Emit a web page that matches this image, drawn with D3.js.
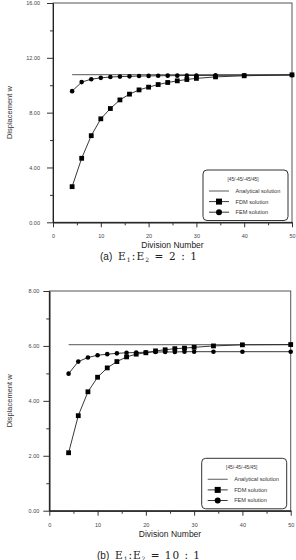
<!DOCTYPE html>
<html>
<head>
<meta charset="utf-8">
<script src="https://cdn.jsdelivr.net/npm/d3@7"></script>
<style>
body { margin: 0; background: #fff; }
text { font-family: "Liberation Sans", Arial, sans-serif; }
</style>
</head>
<body>
<script>
// division numbers used by both panels
var divisions = [4, 6, 8, 10, 12, 14, 16, 18, 20, 22, 24, 26, 28, 30, 34, 40, 50];

// (a) E1:E2 = 2:1
var analyticA = 10.78;
var fdmA = [2.60, 4.67, 6.32, 7.55, 8.30, 8.93, 9.35, 9.66, 9.86, 10.05, 10.20, 10.32, 10.42, 10.50, 10.61, 10.69, 10.76];
var femA = [9.57, 10.23, 10.44, 10.54, 10.60, 10.63, 10.65, 10.67, 10.68, 10.69, 10.70, 10.70, 10.71, 10.71, 10.72, 10.73, 10.74];

// (b) E1:E2 = 10:1
var analyticB = 6.05;
var fdmB = [2.11, 3.46, 4.33, 4.86, 5.20, 5.43, 5.60, 5.70, 5.75, 5.82, 5.86, 5.90, 5.92, 5.95, 6.00, 6.04, 6.05];
var femB = [4.99, 5.43, 5.58, 5.66, 5.70, 5.73, 5.75, 5.76, 5.77, 5.78, 5.78, 5.78, 5.79, 5.79, 5.79, 5.79, 5.79];

var xMajor = [0, 10, 20, 30, 40, 50];
var xMinor = [5, 15, 25, 35, 45];
var yMajorA = [0, 4, 8, 12, 16];
var yMinorA = [2, 6, 10, 14];
var yMajorB = [0, 2, 4, 6, 8];
var yMinorB = [1, 3, 5, 7];

var legendTitle = "[45/-45/-45/45]";
var legendNames = ["Analytical solution", "FDM solution", "FEM solution"];

var svg = d3.select("body")
            .append("svg")
            .attr("width", 296)
            .attr("height", 560);

var panel = function(o) {
    var g = svg.append("g");

    var xScale = d3.scaleLinear()
                   .domain([0, 50])
                   .range([o.left, o.right]);

    var yScale = d3.scaleLinear()
                   .domain([0, o.yMax])
                   .range([o.bottom, o.top]);

    // frame
    g.append("rect")
     .attr("x", o.left)
     .attr("y", o.top)
     .attr("width", o.right - o.left)
     .attr("height", o.bottom - o.top)
     .attr("fill", "none")
     .attr("stroke", "#555")
     .attr("stroke-width", 1);

    g.append("g")
     .attr("transform", "translate(0," + o.bottom + ")")
     .call(d3.axisBottom(xScale).tickValues(xMajor).tickSize(5)
             .tickSizeOuter(0).tickPadding(7).tickFormat(d3.format("d")));
    g.append("g")
     .attr("transform", "translate(0," + o.bottom + ")")
     .call(d3.axisBottom(xScale).tickValues(xMinor).tickSize(3)
             .tickSizeOuter(0).tickFormat(""));

    g.append("g")
     .attr("transform", "translate(" + o.left + ",0)")
     .call(d3.axisLeft(yScale).tickValues(o.yMajor).tickSize(6)
             .tickSizeOuter(0).tickPadding(o.yPad).tickFormat(d3.format(".2f")));
    g.append("g")
     .attr("transform", "translate(" + o.left + ",0)")
     .call(d3.axisLeft(yScale).tickValues(o.yMinor).tickSize(3)
             .tickSizeOuter(0).tickFormat(""));

    g.selectAll(".domain").attr("stroke", "#222");
    g.selectAll(".tick line").attr("stroke", "#333");
    g.selectAll(".tick text")
     .attr("font-size", "5.5px")
     .attr("fill", "#444")
     .style("font-family", "Liberation Sans, Arial, sans-serif");

    // axis titles
    g.append("text")
     .attr("x", (o.left + o.right) / 2)
     .attr("y", o.bottom + 26)
     .attr("text-anchor", "middle")
     .attr("font-size", "8.5px")
     .attr("fill", "#222")
     .text("Division Number");

    g.append("text")
     .attr("transform", "translate(9," + ((o.top + o.bottom) / 2) + ") rotate(-90)")
     .attr("text-anchor", "middle")
     .attr("dy", "0.35em")
     .attr("font-size", "7.5px")
     .attr("fill", "#333")
     .text("Displacement  w");

    // analytical solution
    g.append("line")
     .attr("x1", xScale(divisions[0]))
     .attr("x2", xScale(divisions[divisions.length - 1]))
     .attr("y1", yScale(o.analytic))
     .attr("y2", yScale(o.analytic))
     .attr("stroke", "#777")
     .attr("stroke-width", 1.2);

    var line = d3.line()
                 .x(d => xScale(d[0]))
                 .y(d => yScale(d[1]));

    var fem = divisions.map((d, i) => [d, o.fem[i]]);
    var fdm = divisions.map((d, i) => [d, o.fdm[i]]);

    g.append("path")
     .datum(fem)
     .attr("d", line)
     .attr("fill", "none")
     .attr("stroke", "#222")
     .attr("stroke-width", 0.9);

    g.append("path")
     .datum(fdm)
     .attr("d", line)
     .attr("fill", "none")
     .attr("stroke", "#222")
     .attr("stroke-width", 0.9);

    g.append("g").selectAll("circle")
     .data(fem)
     .enter()
     .append("circle")
     .attr("cx", d => xScale(d[0]))
     .attr("cy", d => yScale(d[1]))
     .attr("r", 2.3)
     .attr("fill", "#000");

    g.append("g").selectAll("rect")
     .data(fdm)
     .enter()
     .append("rect")
     .attr("x", d => xScale(d[0]) - 2.4)
     .attr("y", d => yScale(d[1]) - 2.4)
     .attr("width", 4.8)
     .attr("height", 4.8)
     .attr("fill", "#000");

    // legend
    var lg = g.append("g")
              .attr("transform", "translate(" + o.legX + "," + o.legY + ")");

    lg.append("rect")
      .attr("width", 85)
      .attr("height", 50.5)
      .attr("rx", 4)
      .attr("fill", "#fff")
      .attr("stroke", "#333")
      .attr("stroke-width", 1);

    lg.append("text")
      .attr("x", 40)
      .attr("y", 10.5)
      .attr("text-anchor", "middle")
      .attr("font-size", "4.8px")
      .attr("fill", "#333")
      .text(legendTitle);

    var rows = lg.selectAll(".row")
                 .data(legendNames)
                 .enter()
                 .append("g")
                 .attr("transform", (d, i) => "translate(0," + (21 + i * 10.6) + ")");

    rows.append("line")
        .attr("x1", 6)
        .attr("x2", 26)
        .attr("stroke", (d, i) => i == 0 ? "#777" : "#222")
        .attr("stroke-width", (d, i) => i == 0 ? 1.2 : 0.9);

    rows.filter((d, i) => i == 1)
        .append("rect")
        .attr("x", 13)
        .attr("y", -3)
        .attr("width", 6)
        .attr("height", 6)
        .attr("fill", "#000");

    rows.filter((d, i) => i == 2)
        .append("circle")
        .attr("cx", 16)
        .attr("r", 3)
        .attr("fill", "#000");

    rows.append("text")
        .attr("x", 32.5)
        .attr("dy", "0.35em")
        .attr("font-size", "5.6px")
        .attr("fill", "#333")
        .text(d => d);

    // caption
    g.append("text")
     .attr("x", o.capX)
     .attr("y", o.capY)
     .attr("font-size", "10px")
     .attr("fill", "#222")
     .text(o.capTag);

    var eq = g.append("text")
              .attr("x", o.eqX)
              .attr("y", o.capY)
              .attr("textLength", o.eqW)
              .attr("lengthAdjust", "spacing")
              .attr("fill", "#222")
              .style("font-family", "DejaVu Serif, Liberation Serif, serif")
              .attr("font-size", "10.5px");
    eq.append("tspan").text("E");
    eq.append("tspan").attr("font-size", "6px").attr("dy", 2).text("1");
    eq.append("tspan").attr("dy", -2).text(":E");
    eq.append("tspan").attr("font-size", "6px").attr("dy", 2).text("2");
    eq.append("tspan").attr("dy", -2).text(" = " + o.ratio);
};

panel({
    left: 53, right: 292, top: 3, bottom: 222.3,
    yMax: 16, yMajor: yMajorA, yMinor: yMinorA, yPad: 7,
    analytic: analyticA, fdm: fdmA, fem: femA,
    legX: 203, legY: 170,
    capTag: "(a)", ratio: "2 : 1", capX: 100, eqX: 118, eqW: 79, capY: 260
});

panel({
    left: 49.3, right: 290.7, top: 291, bottom: 510.7,
    yMax: 8, yMajor: yMajorB, yMinor: yMinorB, yPad: 4,
    analytic: analyticB, fdm: fdmB, fem: femB,
    legX: 201.7, legY: 458.3,
    capTag: "(b)", ratio: "10 : 1", capX: 97, eqX: 115, eqW: 85, capY: 558.5
});
</script>
</body>
</html>
